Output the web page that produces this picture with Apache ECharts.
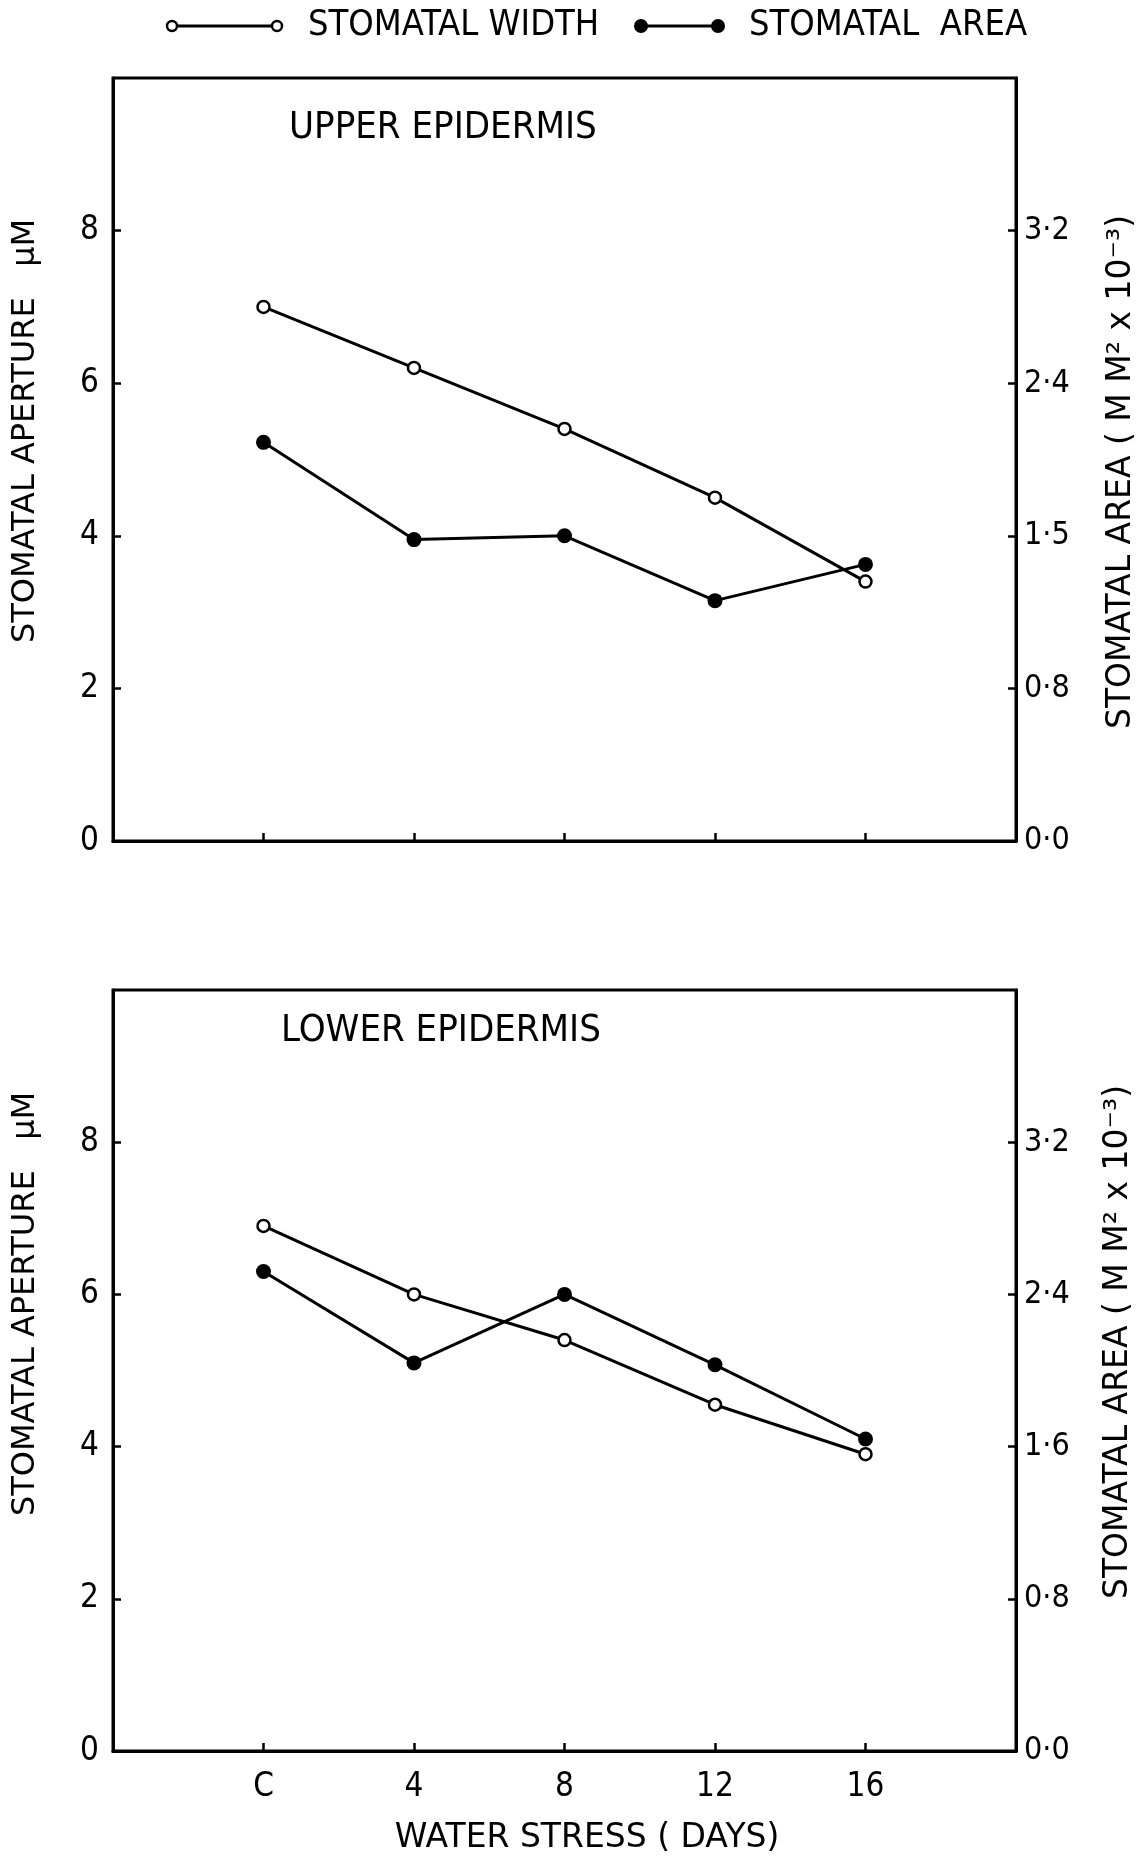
<!DOCTYPE html>
<html>
<head>
<meta charset="utf-8">
<script src="https://cdn.jsdelivr.net/npm/echarts@6/dist/echarts.min.js"></script>
<style>
  html, body { margin: 0; padding: 0; background: #fff; }
  #chart { width: 1143px; height: 1857px; }
</style>
</head>
<body>
<div id="chart"></div>
<script>
// water stress days, C = control
const dayValues = [0, 4, 8, 12, 16]
const dayLabels = ['C', '4', '8', '12', '16']

// stomatal width (µM, left axis) and stomatal area (mm² x 10^-3, right axis)
const upperWidth = [7.0, 6.2, 5.4, 4.5, 3.4]
const upperArea = [2.09, 1.58, 1.60, 1.26, 1.45]
const lowerWidth = [6.9, 6.0, 5.4, 4.55, 3.9]
const lowerArea = [2.52, 2.04, 2.40, 2.03, 1.64]

// axis ticks
const widthTicks = [0, 2, 4, 6, 8]
const areaTicks = [0, 0.8, 1.6, 2.4, 3.2]
const upperAreaLabels = ['0·0', '0·8', '1·5', '2·4', '3·2']
const lowerAreaLabels = ['0·0', '0·8', '1·6', '2·4', '3·2']

const NARROW = '"Liberation Sans Narrow", "DejaVu Sans Condensed", sans-serif'
const BLACK = '#000'

const zip = (xs, ys) => xs.map((x, i) => [x, ys[i]])

function xAxis(gridIndex, showLabel) {
    return {
        type: 'value', gridIndex, min: -4, max: 20, interval: 4,
        axisLine: { onZero: false, lineStyle: { color: BLACK, width: 3 } },
        axisTick: { inside: true, length: 8, customValues: dayValues, lineStyle: { color: BLACK, width: 2.5 } },
        axisLabel: {
            show: showLabel, customValues: dayValues, margin: 20,
            color: BLACK, fontFamily: NARROW, fontSize: 33,
            formatter: v => dayLabels[dayValues.indexOf(v)]
        },
        splitLine: { show: false }
    }
}

function leftAxis(gridIndex) {
    return {
        type: 'value', gridIndex, min: 0, max: 10, interval: 2,
        axisLine: { show: true, onZero: false, lineStyle: { color: BLACK, width: 3 } },
        axisTick: { show: true, inside: true, length: 8, customValues: widthTicks, lineStyle: { color: BLACK, width: 2.5 } },
        axisLabel: { customValues: widthTicks, margin: 14, color: BLACK, fontFamily: NARROW, fontSize: 33 },
        splitLine: { show: false }
    }
}

function rightAxis(gridIndex, labels) {
    return {
        type: 'value', gridIndex, position: 'right', min: 0, max: 4, interval: 0.8,
        axisLine: { show: true, onZero: false, lineStyle: { color: BLACK, width: 3 } },
        axisTick: { show: true, inside: true, length: 8, customValues: areaTicks, lineStyle: { color: BLACK, width: 2.5 } },
        axisLabel: {
            customValues: areaTicks, margin: 8, color: BLACK, fontFamily: NARROW, fontSize: 32,
            formatter: v => labels[Math.round(v / 0.8)]
        },
        splitLine: { show: false }
    }
}

function widthSeries(data, xi, yi) {
    return {
        type: 'line', xAxisIndex: xi, yAxisIndex: yi, data,
        symbol: 'circle', symbolSize: 12, z: 3,
        lineStyle: { color: BLACK, width: 3 },
        itemStyle: { color: '#fff', borderColor: BLACK, borderWidth: 2.5 }
    }
}

function areaSeries(data, xi, yi) {
    return {
        type: 'line', xAxisIndex: xi, yAxisIndex: yi, data,
        symbol: 'circle', symbolSize: 15, z: 3,
        lineStyle: { color: BLACK, width: 3 },
        itemStyle: { color: BLACK }
    }
}

function vText(x, y, text, size) {
    return {
        type: 'text', x, y, rotation: Math.PI / 2,
        style: { text, font: size + 'px "DejaVu Sans"', fill: BLACK, align: 'center', verticalAlign: 'middle' }
    }
}

const APERTURE_TITLE = 'STOMATAL APERTURE   \u03BCM'
const AREA_TITLE = 'STOMATAL AREA ( M M\u00B2 x 10\u207B\u00B3)'

const legendY = 26
const option = {
    backgroundColor: '#fff',
    animation: false,
    title: [
        { text: 'UPPER EPIDERMIS', left: 284, top: 104, textStyle: { fontFamily: NARROW, fontSize: 38, fontWeight: 'normal', color: BLACK } },
        { text: 'LOWER EPIDERMIS', left: 276, top: 1007, textStyle: { fontFamily: NARROW, fontSize: 38, fontWeight: 'normal', color: BLACK } }
    ],
    grid: [
        { left: 113, right: 127, top: 78, height: 763, show: true, borderColor: BLACK, borderWidth: 3 },
        { left: 113, right: 127, top: 990, height: 761, show: true, borderColor: BLACK, borderWidth: 3 }
    ],
    xAxis: [xAxis(0, false), xAxis(1, true)],
    yAxis: [leftAxis(0), rightAxis(0, upperAreaLabels), leftAxis(1), rightAxis(1, lowerAreaLabels)],
    series: [
        widthSeries(zip(dayValues, upperWidth), 0, 0),
        areaSeries(zip(dayValues, upperArea), 0, 1),
        widthSeries(zip(dayValues, lowerWidth), 1, 2),
        areaSeries(zip(dayValues, lowerArea), 1, 3)
    ],
    graphic: [
        // legend
        { type: 'line', shape: { x1: 172, y1: legendY, x2: 277, y2: legendY }, style: { stroke: BLACK, lineWidth: 3 } },
        { type: 'circle', shape: { cx: 172, cy: legendY, r: 5 }, style: { fill: '#fff', stroke: BLACK, lineWidth: 2.5 } },
        { type: 'circle', shape: { cx: 277, cy: legendY, r: 5 }, style: { fill: '#fff', stroke: BLACK, lineWidth: 2.5 } },
        { type: 'text', x: 308, y: legendY, style: { text: 'STOMATAL WIDTH', font: '36px ' + NARROW, fill: BLACK, verticalAlign: 'middle' } },
        { type: 'line', shape: { x1: 641, y1: legendY, x2: 718, y2: legendY }, style: { stroke: BLACK, lineWidth: 3 } },
        { type: 'circle', shape: { cx: 641, cy: legendY, r: 7 }, style: { fill: BLACK } },
        { type: 'circle', shape: { cx: 718, cy: legendY, r: 7 }, style: { fill: BLACK } },
        { type: 'text', x: 749, y: legendY, style: { text: 'STOMATAL  AREA', font: '36px ' + NARROW, fill: BLACK, verticalAlign: 'middle' } },
        // axis titles
        vText(26, 431, APERTURE_TITLE, 32),
        vText(1121, 472, AREA_TITLE, 33),
        vText(26, 1304, APERTURE_TITLE, 32),
        vText(1118, 1342, AREA_TITLE, 33),
        {
            type: 'text', x: 587, y: 1838,
            style: { text: 'WATER STRESS ( DAYS)', font: '33px "DejaVu Sans"', fill: BLACK, align: 'center', verticalAlign: 'middle' }
        }
    ]
}

const chart = echarts.init(document.getElementById('chart'))
chart.setOption(option)
</script>
</body>
</html>
